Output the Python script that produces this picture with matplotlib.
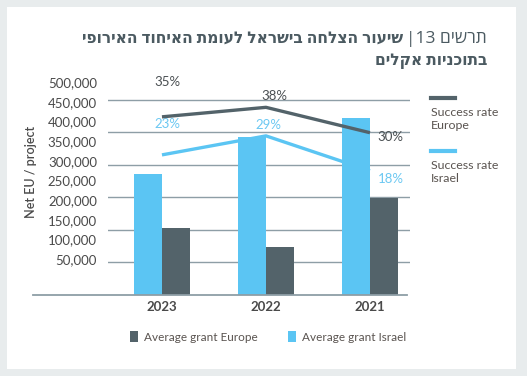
import matplotlib
matplotlib.use("Agg")
import matplotlib.pyplot as plt
import numpy as np
from matplotlib.patches import Rectangle, Patch
from matplotlib.lines import Line2D

# ---------------- data ----------------
years = ["2023", "2022", "2021"]
grant_israel = [279000, 365000, 408000]
grant_europe = [155000, 111000, 224000]
rate_europe = [35, 38, 30]
rate_israel = [23, 29, 18]
tick_values = [50000, 100000, 150000, 200000, 250000, 300000,
               350000, 400000, 450000, 500000]
grid_values = [75000, 150000, 225000, 300000, 375000, 450000]

title_light = "תרשים 13|"
title_bold = "שיעור הצלחה בישראל לעומת האיחוד האירופי"
title_line2 = "בתוכניות אקלים"
y_label = "Net EU / project"
legend_rates = ["Success rate\nEurope", "Success rate\nIsrael"]
legend_grants = ["Average grant Europe", "Average grant Israel"]

# ---------------- style ----------------
W, H = 527, 376
DARK = "#53636a"
LIGHT = "#5bc5f3"
GRID = "#8e9ea6"
TXT = "#4a4a4a"
TITLE_C = "#4b5a61"
FONT = ["Lato", "DejaVu Sans"]
HEB = ["Open Sans", "DejaVu Sans"]

plt.rcParams["font.family"] = FONT


def px(x, y):
    """pixel (top-left origin) -> figure fraction"""
    return x / W, (H - y) / H


def visual_rtl(s):
    """Reverse Hebrew text for left-to-right rendering, keeping digit runs."""
    out, buf = [], ""
    for ch in s:
        if ch.isdigit():
            buf += ch
        else:
            if buf:
                out.append(buf)
                buf = ""
            out.append(ch)
    if buf:
        out.append(buf)
    return "".join(reversed(out))


fig = plt.figure(figsize=(W / 100, H / 100), dpi=100)
fig.patch.set_facecolor("#e8eced")
card = Rectangle(px(7, 369), (516 - 7) / W, (369 - 7) / H,
                 transform=fig.transFigure, facecolor="white",
                 edgecolor="none", zorder=-10)
fig.patches.append(card)

# main axes: bars
ax_l, ax_r, ax_top, ax_bot = 108, 410, 75, 295
ax = fig.add_axes([ax_l / W, (H - ax_bot) / H, (ax_r - ax_l) / W,
                   (ax_bot - ax_top) / H])
ax.set_facecolor("none")
x = np.arange(len(years))
w = 0.27
ax.bar(x - w / 2, grant_israel, w, color=LIGHT, zorder=2)
ax.bar(x + w / 2, grant_europe, w, color=DARK, zorder=2)
ax.set_xlim(-0.519, 2.385)
ax.set_ylim(0, 507692)
for v in grid_values:
    ax.axhline(v, color=GRID, lw=1, zorder=1)
ax.plot([-0.25, 0.99], [0, 0], transform=ax.transAxes, clip_on=False,
        color=GRID, lw=1.3, zorder=3)
for s in ax.spines.values():
    s.set_visible(False)
ax.set_yticks([])
ax.set_xticks(x, years)
ax.tick_params(axis="x", length=0, pad=4)
for t in ax.get_xticklabels():
    t.set_fontweight("bold")
    t.set_fontsize(9.5)
    t.set_color(TXT)

# tick-label axis (labels as in the original)
ax_t = ax.twinx()
ax_t.yaxis.tick_left()
ax_t.set_ylim(-41525, 517797)
ax_t.set_yticks(tick_values, [f"{v:,}" for v in tick_values])
ax_t.tick_params(axis="y", length=0, pad=8, labelsize=9.5, labelcolor=TXT)
for s in ax_t.spines.values():
    s.set_visible(False)

# lines axis
ax2 = ax.twinx()
ax2.set_ylim(-21.2, 48.2)
ax2.plot(x, rate_europe, color=DARK, lw=2.4, solid_capstyle="butt", zorder=5)
ax2.plot(x, rate_israel, color=LIGHT, lw=2.4, solid_capstyle="butt", zorder=5)
ax2.set_yticks([])
for s in ax2.spines.values():
    s.set_visible(False)

off_eu = [(4, 25), (6, 8), (15, -3)]
off_il = [(4, 22), (2, 8), (15, -6)]
for i, v in enumerate(rate_europe):
    ax2.annotate(f"{v}%", (x[i], v), xytext=off_eu[i],
                 textcoords="offset points", ha="center", va="center",
                 fontsize=9.5, color="#4a4f52")
for i, v in enumerate(rate_israel):
    ax2.annotate(f"{v}%", (x[i], v), xytext=off_il[i],
                 textcoords="offset points", ha="center", va="center",
                 fontsize=9.5, color="#6cc8f2")

# y label
fx, fy = px(31, 172)
fig.text(fx, fy, y_label, rotation=90, ha="center", va="center",
         fontsize=9, color=TXT, fontweight="semibold")

# right legend (line handles above labels)
for (yy, col, lab) in [(98, DARK, legend_rates[0]), (151, LIGHT, legend_rates[1])]:
    x0, y0 = px(431, yy)
    x1, _ = px(455, yy)
    fig.add_artist(Line2D([x0, x1], [y0, y0], color=col, lw=3,
                          transform=fig.transFigure))
    tx, ty = px(431, yy + 9)
    fig.text(tx, ty, lab, ha="left", va="top", fontsize=8.9,
             color="#5a5450", linespacing=1.2)

# bottom legend
handles = [Patch(facecolor=DARK, edgecolor="none"),
           Patch(facecolor=LIGHT, edgecolor="none")]
lx, ly = px(268, 337)
fig.legend(handles, legend_grants, loc="center", bbox_to_anchor=(lx, ly),
           ncol=2, frameon=False, fontsize=8.5, handlelength=0.7,
           handleheight=1.0, handletextpad=0.5, columnspacing=2.5,
           labelcolor="#5a5450")

# title (Hebrew, right aligned)
rx, ry = px(487, 39)
t1 = fig.text(rx, ry, visual_rtl(title_light), ha="right", va="center",
              fontsize=12.5, color=TITLE_C, family=HEB)
fig.canvas.draw()
bb = t1.get_window_extent(renderer=fig.canvas.get_renderer())
t2 = fig.text((bb.x0 - 3) / W, ry, visual_rtl(title_bold), ha="right",
              va="center", fontsize=11.2, color=TITLE_C, fontweight="bold",
              family=HEB)
rx2, ry2 = px(487, 61)
fig.text(rx2, ry2, visual_rtl(title_line2), ha="right", va="center",
         fontsize=11.2, color=TITLE_C, fontweight="bold", family=HEB)

fig.savefig("out.png", dpi=100, facecolor=fig.get_facecolor())
